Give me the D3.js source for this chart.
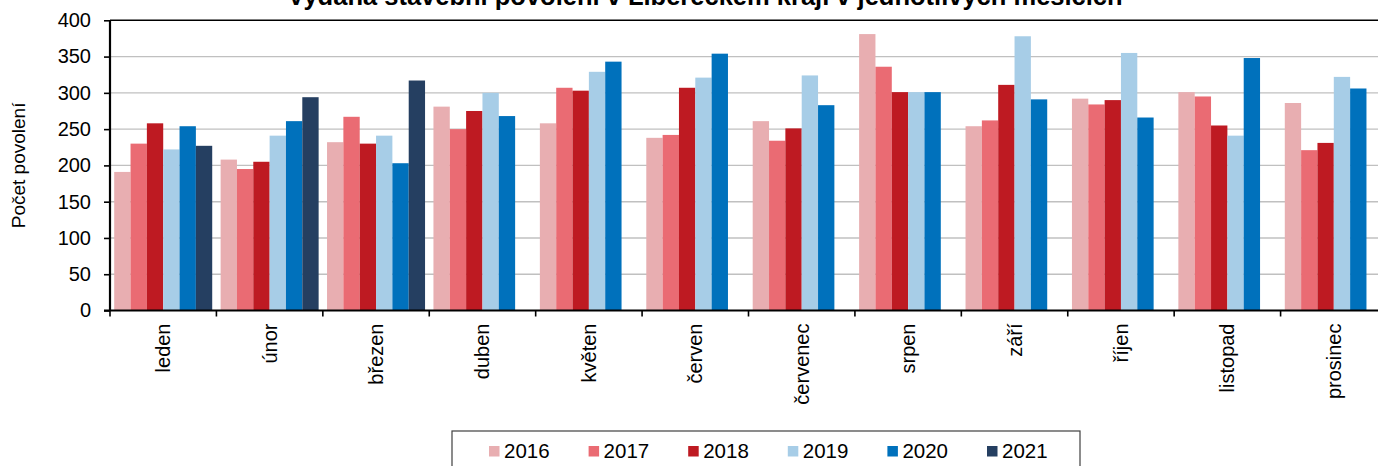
<!DOCTYPE html>
<html>
<head>
<meta charset="utf-8">
<script src="https://cdn.jsdelivr.net/npm/d3@7"></script>
<style>
  body { margin: 0; background: #fff; }
  svg { display: block; font-family: Arial, "Liberation Sans", sans-serif; }
</style>
</head>
<body>
<script>
// data
var months = ['leden','únor','březen','duben','květen','červen','červenec','srpen','září','říjen','listopad','prosinec'];
var years = ['2016','2017','2018','2019','2020','2021'];
var colors = ['#E8AEB1','#EA6B73','#BE1A22','#A7CDE7','#0071BC','#253F61'];

var v2016 = [191, 208, 232, 281, 258, 238, 261, 381, 254, 292, 301, 286];
var v2017 = [230, 195, 267, 250, 307, 242, 234, 336, 262, 284, 295, 221];
var v2018 = [258, 205, 230, 275, 303, 307, 251, 301, 311, 290, 255, 231];
var v2019 = [222, 241, 241, 300, 329, 321, 324, 301, 378, 355, 241, 322];
var v2020 = [254, 261, 203, 268, 343, 354, 283, 301, 291, 266, 348, 306];
var v2021 = [227, 294, 317];
var series = [v2016, v2017, v2018, v2019, v2020, v2021];

var yTicks = [0, 50, 100, 150, 200, 250, 300, 350, 400];

var width = 1378, height = 466;
var plotLeft = 110, plotRight = 1387, plotTop = 20.3, plotBottom = 310.5;

var svg = d3.select('body').append('svg')
  .attr('width', width)
  .attr('height', height);

svg.append('rect').attr('width', width).attr('height', height).attr('fill', '#fff');

var x = d3.scaleBand().domain(months).range([plotLeft, plotRight]);
var bw = x.bandwidth();
var xs = d3.scaleBand().domain(years).range([4.2, bw - 4.2]);
var y = d3.scaleLinear().domain([0, 400]).range([plotBottom, plotTop]);

// gridlines
svg.append('g').selectAll('line')
  .data(yTicks.filter(function(d) { return d > 0 && d < 400; }))
  .enter().append('line')
  .attr('x1', plotLeft).attr('x2', plotRight)
  .attr('y1', function(d) { return y(d); })
  .attr('y2', function(d) { return y(d); })
  .attr('stroke', '#C0C0C0')
  .attr('stroke-width', 1.4);

// top border
svg.append('line')
  .attr('x1', plotLeft).attr('x2', plotRight)
  .attr('y1', y(400)).attr('y2', y(400))
  .attr('stroke', '#000').attr('stroke-width', 1.6);

// bars
var barData = [];
series.forEach(function(vals, si) {
  vals.forEach(function(v, mi) {
    barData.push({ m: months[mi], yr: years[si], v: v, c: colors[si] });
  });
});

svg.append('g').selectAll('rect')
  .data(barData)
  .enter().append('rect')
  .attr('x', function(d) { return x(d.m) + xs(d.yr); })
  .attr('width', xs.bandwidth())
  .attr('y', function(d) { return y(d.v); })
  .attr('height', function(d) { return y(0) - y(d.v); })
  .attr('fill', function(d) { return d.c; });

// y axis
var yAxis = d3.axisLeft(y).tickValues(yTicks).tickSize(6).tickPadding(13);
var gy = svg.append('g')
  .attr('transform', 'translate(' + plotLeft + ',0)')
  .call(yAxis);
gy.select('.domain').attr('stroke', '#000').attr('stroke-width', 2.2)
  .attr('d', 'M0,' + plotTop + 'V' + plotBottom);
gy.selectAll('.tick line').attr('stroke', '#000').attr('stroke-width', 1.6);
gy.selectAll('.tick text').attr('font-size', 20).attr('fill', '#000')
  .attr('font-family', 'Arial, "Liberation Sans", sans-serif');

// x axis
var gx = svg.append('g');
gx.append('line')
  .attr('x1', plotLeft - 6).attr('x2', plotRight)
  .attr('y1', plotBottom).attr('y2', plotBottom)
  .attr('stroke', '#000').attr('stroke-width', 2.2);
gx.selectAll('line.tk')
  .data(months)
  .enter().append('line')
  .attr('class', 'tk')
  .attr('x1', function(d) { return x(d); })
  .attr('x2', function(d) { return x(d); })
  .attr('y1', plotBottom).attr('y2', plotBottom + 6)
  .attr('stroke', '#000').attr('stroke-width', 1.6);
gx.selectAll('text')
  .data(months)
  .enter().append('text')
  .attr('transform', function(d) { return 'translate(' + (x(d) + bw / 2) + ',' + (plotBottom + 13) + ') rotate(-90)'; })
  .attr('text-anchor', 'end')
  .attr('dy', '0.35em')
  .attr('font-size', 20)
  .attr('fill', '#000')
  .text(function(d) { return d; });

// y axis title
svg.append('text')
  .attr('transform', 'translate(25,' + ((plotTop + plotBottom) / 2) + ') rotate(-90)')
  .attr('text-anchor', 'middle')
  .attr('font-size', 19)
  .attr('fill', '#000')
  .text('Počet povolení');

// title (cut off at top)
svg.append('text')
  .attr('x', 705).attr('y', 5)
  .attr('text-anchor', 'middle')
  .attr('font-size', 25.5)
  .attr('font-weight', 'bold')
  .attr('fill', '#000')
  .text('Vydaná stavební povolení v Libereckém kraji v jednotlivých měsících');

// legend
var lg = svg.append('g');
lg.append('rect')
  .attr('x', 452).attr('y', 431)
  .attr('width', 628).attr('height', 50)
  .attr('fill', '#fff')
  .attr('stroke', '#404040').attr('stroke-width', 1.2);
var item = lg.selectAll('g.item')
  .data(years)
  .enter().append('g')
  .attr('class', 'item')
  .attr('transform', function(d, i) { return 'translate(' + (489 + i * 99.6) + ',0)'; });
item.append('rect')
  .attr('x', 0).attr('y', 446)
  .attr('width', 10.5).attr('height', 10.5)
  .attr('fill', function(d, i) { return colors[i]; });
item.append('text')
  .attr('x', 15).attr('y', 458)
  .attr('font-size', 20.5)
  .attr('fill', '#000')
  .text(function(d) { return d; });
</script>
</body>
</html>
